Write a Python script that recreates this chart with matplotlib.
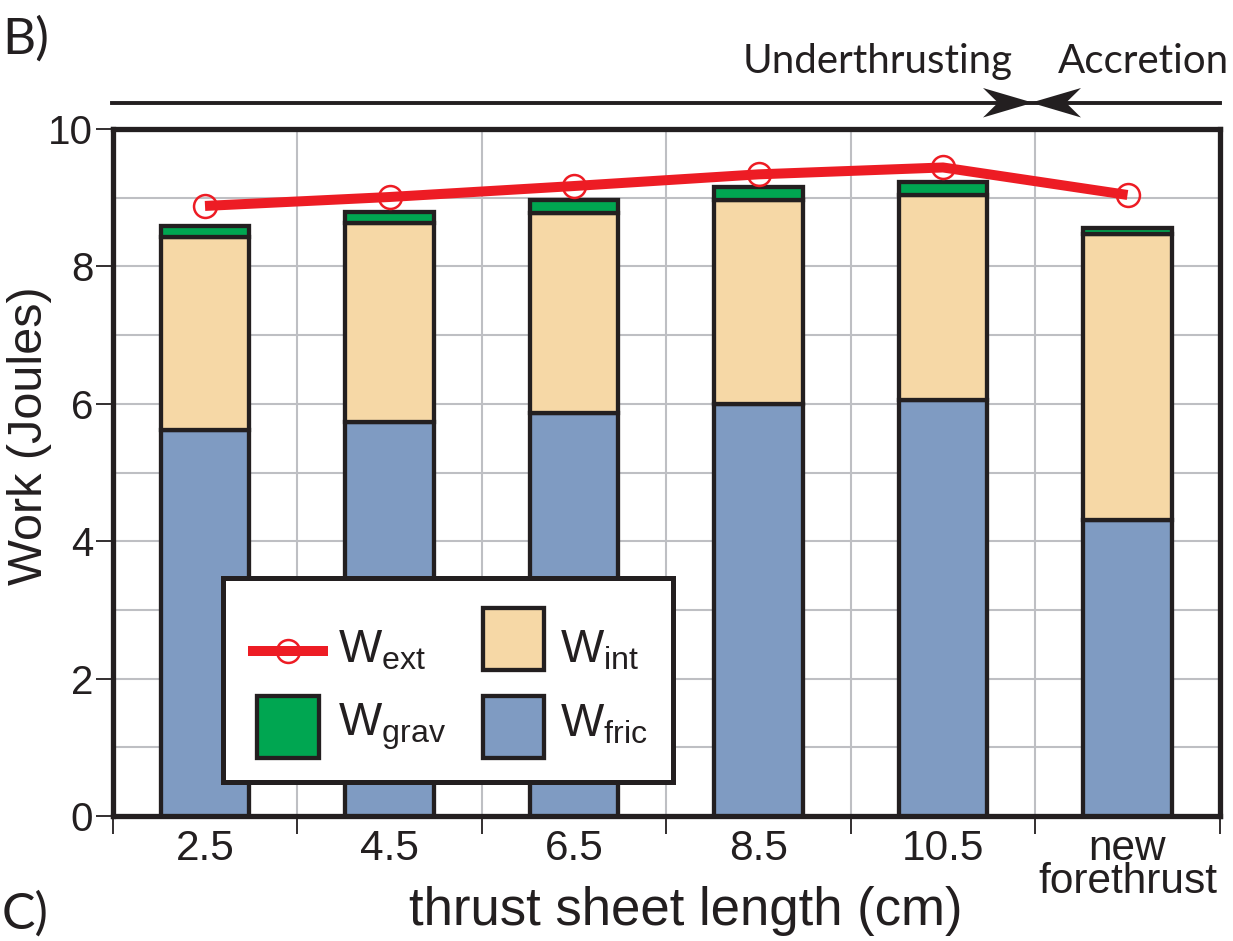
import matplotlib
matplotlib.use('Agg')
import matplotlib.pyplot as plt
from matplotlib.patches import Rectangle, Polygon
from matplotlib.lines import Line2D
import numpy as np

# ---------------- data ----------------
categories = ["2.5", "4.5", "6.5", "8.5", "10.5", "new\nforethrust"]
W_fric = [5.62, 5.74, 5.87, 5.99, 6.06, 4.31]
W_int = [2.81, 2.89, 2.91, 2.98, 2.98, 4.16]
W_grav = [0.16, 0.16, 0.19, 0.19, 0.19, 0.09]
W_ext = [8.88, 9.01, 9.17, 9.34, 9.44, 9.04]
y_ticks = [0, 2, 4, 6, 8, 10]
legend_labels = [r'W$_{\rm ext}$', r'W$_{\rm grav}$', r'W$_{\rm int}$', r'W$_{\rm fric}$']

# ---------------- style ----------------
plt.rcParams['font.family'] = ['Liberation Sans', 'DejaVu Sans']
plt.rcParams['mathtext.fontset'] = 'custom'
plt.rcParams['mathtext.rm'] = 'Liberation Sans'
plt.rcParams['mathtext.it'] = 'Liberation Sans:italic'
plt.rcParams['mathtext.bf'] = 'Liberation Sans:bold'

INK = '#231F20'
C_FRIC = '#7F9BC2'
C_INT = '#F6D8A6'
C_GRAV = '#00A651'
C_EXT = '#ED1C24'
C_GRID = '#BEBFC3'

W, H = 1233, 941
fig = plt.figure(figsize=(W / 100, H / 100), dpi=100)


def fx(x):
    return x / W


def fy(y):
    return 1 - y / H


ax = fig.add_axes([fx(112.75), fy(816), fx(1219.75) - fx(112.75), fy(129) - fy(816)])

x = np.arange(len(categories))
bw = 0.477
elw = 3.1
ax.bar(x, W_fric, bw, color=C_FRIC, edgecolor=INK, linewidth=elw, zorder=3)
ax.bar(x, W_int, bw, bottom=W_fric, color=C_INT, edgecolor=INK, linewidth=elw, zorder=3)
bottom2 = np.add(W_fric, W_int)
ax.bar(x, W_grav, bw, bottom=bottom2, color=C_GRAV, edgecolor=INK, linewidth=elw, zorder=3)
ax.plot(x, W_ext, color=C_EXT, lw=7.2, marker='o', ms=16.5, mfc='none', mec=C_EXT,
        mew=1.8, solid_capstyle='butt', zorder=4, clip_on=False)

ax.set_xlim(-0.5, len(categories) - 0.5)
ax.set_ylim(0, 10)

# ticks
ax.set_yticks(y_ticks)
ax.set_yticks([1, 3, 5, 7, 9], minor=True)
ax.set_xticks(np.arange(-0.5, len(categories), 1.0))
ax.set_xticks(x, minor=True)
ax.set_xticklabels(categories, minor=True)
ax.tick_params(axis='y', which='major', direction='out', length=12, width=1.3,
               color=INK, labelsize=29, pad=2, labelcolor=INK)
ax.tick_params(axis='y', which='minor', length=0)
ax.tick_params(axis='x', which='major', direction='out', length=13, width=1.3,
               color=INK, labelbottom=False)
ax.tick_params(axis='x', which='minor', length=0, labelsize=30.5, pad=9, labelcolor=INK)
for lbl in ax.get_xticklabels(minor=True):
    lbl.set_linespacing(0.78)

# grid
ax.set_axisbelow(True)
ax.grid(True, which='major', axis='both', color=C_GRID, lw=1.5)
ax.grid(True, which='minor', axis='y', color=C_GRID, lw=1.5)

for s in ax.spines.values():
    s.set_linewidth(3.8)
    s.set_color(INK)

# axis labels
ax.set_xlabel('thrust sheet length (cm)', fontsize=38, color=INK)
ax.xaxis.set_label_coords(fx(686), fy(925), transform=fig.transFigure)
ax.xaxis.label.set_va('baseline')
ax.set_ylabel('Work (Joules)', fontsize=35, color=INK)
ax.yaxis.set_label_coords(fx(42), fy(436), transform=fig.transFigure)
ax.yaxis.label.set_va('baseline')

# ---------------- legend box (drawn as a key panel) ----------------
T = fig.transFigure


def rect_px(x0, y0, x1, y1, **kw):
    return Rectangle((fx(x0), fy(y1)), fx(x1) - fx(x0), fy(y0) - fy(y1),
                     transform=T, clip_on=False, **kw)


ax.add_patch(rect_px(223, 578, 673, 782, facecolor='white', edgecolor=INK,
                     linewidth=3.6, zorder=20))
# Wext key: line with open circle
ax.add_line(Line2D([fx(248), fx(328)], [fy(651), fy(651)], color=C_EXT, lw=7.2,
                   solid_capstyle='butt', transform=T, clip_on=False, zorder=21))
ax.add_line(Line2D([fx(288)], [fy(651)], marker='o', ms=16.5, mfc='none', mec=C_EXT,
                   mew=1.8, transform=T, clip_on=False, zorder=22))
# patch keys
key_boxes = [(257, 696, 319, 758, C_GRAV), (483, 608, 544, 670, C_INT),
             (483, 696, 544, 758, C_FRIC)]
for x0, y0, x1, y1, c in key_boxes:
    ax.add_patch(rect_px(x0, y0, x1, y1, facecolor=c, edgecolor=INK, linewidth=elw,
                         zorder=21))
text_pos = [(338, 662), (338, 736), (560, 662), (560, 736)]
for (tx, ty), lab in zip(text_pos, legend_labels):
    ax.text(fx(tx), fy(ty), lab, transform=T, fontsize=33, color=INK, va='baseline',
            ha='left', zorder=22, clip_on=False)

# ---------------- top annotation: arrows ----------------
fig.add_artist(Line2D([fx(112), fx(1220)], [fy(102.7), fy(102.7)], color=INK, lw=2.8,
                      transform=T))
right_head = [(1033, 102.7), (983, 88), (998, 102.7), (983, 117.5)]
left_head = [(1031, 102.7), (1081, 88), (1066, 102.7), (1081, 117.5)]
for pts in (right_head, left_head):
    fig.add_artist(Polygon([(fx(a), fy(b)) for a, b in pts], closed=True,
                           facecolor=INK, edgecolor='none', transform=T))

fig.text(fx(743), fy(73), 'Underthrusting', family=['Lato', 'DejaVu Sans'], fontsize=29,
         va='baseline', ha='left', color=INK)
fig.text(fx(1058), fy(73), 'Accretion', family=['Lato', 'DejaVu Sans'], fontsize=29,
         va='baseline', ha='left', color=INK)
fig.text(fx(2), fy(54), 'B)', family=['Lato', 'DejaVu Sans'], fontsize=37,
         va='baseline', ha='left', color=INK)
fig.text(fx(2), fy(929), 'C)', family=['Lato', 'DejaVu Sans'], fontsize=36,
         va='baseline', ha='left', color=INK)

fig.savefig('out.png', dpi=100)
